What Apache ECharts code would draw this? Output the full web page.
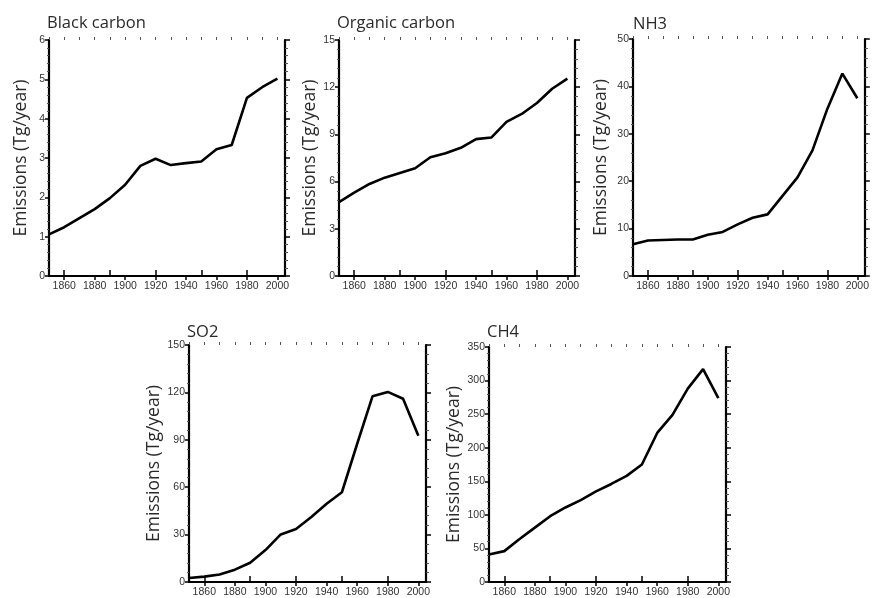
<!DOCTYPE html>
<html>
<head>
<meta charset="utf-8">
<script src="https://cdn.jsdelivr.net/npm/echarts@6/dist/echarts.min.js"></script>
<style>
html,body{margin:0;padding:0;background:#fff;}
#chart{width:872px;height:598px;}
</style>
</head>
<body>
<div id="chart"></div>
<script>
var years = [1850,1860,1870,1880,1890,1900,1910,1920,1930,1940,1950,1960,1970,1980,1990,2000];
var blackCarbon = [1.06,1.24,1.47,1.7,1.98,2.32,2.8,2.98,2.82,2.87,2.91,3.22,3.33,4.53,4.8,5.02];
var organicCarbon = [4.7,5.3,5.85,6.25,6.55,6.85,7.55,7.8,8.15,8.7,8.8,9.8,10.3,11.0,11.9,12.55];
var nh3 = [6.7,7.5,7.6,7.7,7.7,8.7,9.3,10.9,12.3,13.0,16.9,20.8,26.5,35.3,42.7,37.5];
var so2 = [2.5,3.4,4.8,7.8,12.2,20.2,30.1,33.5,41.2,49.5,56.8,87.5,117.5,120.3,116,92.5];
var ch4 = [41,46,64,81,98,111,122,135,146,158,175,222,249,288,317,274];
var titles = ["Black carbon","Organic carbon","NH3","SO2","CH4"];
var yAxisName = "Emissions (Tg/year)";
var bottomTickYears = [1860,1880,1900,1920,1940,1960,1980,2000];
var topMajorYears = [1860,1890,1920,1950,1980];
var topMinorYears = [1850,1860,1870,1880,1890,1900,1910,1920,1930,1940,1950,1960,1970,1980,1990,2000];
var yMax = [6,15,50,150,350];
var yInterval = [1,3,10,30,50];

var panels = [
  {left:49, top:40, w:236, h:236, gap:19, tx:47, ty:15},
  {left:339, top:40, w:236, h:236, gap:17, tx:337, ty:15},
  {left:633, top:39, w:235, h:237, gap:23, tx:633, ty:16},
  {left:189, top:345, w:237, h:238, gap:26, tx:187, ty:324},
  {left:489, top:347, w:237, h:236, gap:26, tx:487, ty:324}
];
var seriesData = [blackCarbon, organicCarbon, nh3, so2, ch4];

var grids=[], xAxes=[], yAxes=[], series=[], titleArr=[];
var axisLine = {show:true, lineStyle:{color:'#000', width:2.2}};
var labelFont = {color:'#333', fontSize:10.5, fontFamily:'Liberation Sans, Arial, sans-serif'};
panels.forEach(function(p,i){
  grids.push({left:p.left, top:p.top, width:p.w, height:p.h, containLabel:false});
  titleArr.push({text:titles[i], left:p.tx, top:p.ty, padding:0,
    textStyle:{fontSize:16.5, fontWeight:'normal', color:'#2a2a2a', fontFamily:'Open Sans, sans-serif'}});
  // bottom axis
  xAxes.push({type:'value', gridIndex:i, position:'bottom', min:1850, max:2005,
    axisLine:axisLine, splitLine:{show:false},
    axisTick:{show:true, customValues:bottomTickYears, length:4, lineStyle:{color:'#000', width:1.5}},
    axisLabel:Object.assign({customValues:bottomTickYears, margin:5,
      formatter:function(v){return String(v);}}, labelFont)});
  // top major
  xAxes.push({type:'value', gridIndex:i, position:'top', min:1850, max:2005,
    axisLine:axisLine, splitLine:{show:false},
    axisTick:{show:true, customValues:topMajorYears, length:6, lineStyle:{color:'#000', width:1.5}},
    axisLabel:{show:false, customValues:topMajorYears}});
  // top minor
  xAxes.push({type:'value', gridIndex:i, position:'top', min:1850, max:2005,
    axisLine:{show:false}, splitLine:{show:false},
    axisTick:{show:true, customValues:topMinorYears, length:3, lineStyle:{color:'#555', width:1}},
    axisLabel:{show:false, customValues:topMinorYears}});
  // left
  yAxes.push({type:'value', gridIndex:i, position:'left', min:0, max:yMax[i], interval:yInterval[i],
    name:yAxisName, nameLocation:'middle', nameGap:p.gap,
    nameTextStyle:{fontSize:17.5, color:'#2a2a2a', fontFamily:'Open Sans, sans-serif'},
    axisLine:axisLine, splitLine:{show:false},
    axisTick:{show:true, length:4, lineStyle:{color:'#000', width:1.5}},
    minorTick:{show:true, splitNumber:5, length:2, lineStyle:{color:'#555', width:1}},
    axisLabel:Object.assign({margin:4}, labelFont)});
  // right
  yAxes.push({type:'value', gridIndex:i, position:'right', min:0, max:yMax[i], interval:yInterval[i],
    axisLine:axisLine, splitLine:{show:false},
    axisTick:{show:true, length:5, lineStyle:{color:'#000', width:1.5}},
    minorTick:{show:true, splitNumber:5, length:3, lineStyle:{color:'#555', width:1}},
    axisLabel:{show:false}});
  series.push({type:'line', xAxisIndex:3*i, yAxisIndex:2*i, symbol:'none',
    lineStyle:{color:'#000', width:2.6}, smooth:false, z:5,
    data: years.map(function(y,k){return [y, seriesData[i][k]];})});
});

var chart = echarts.init(document.getElementById('chart'), null, {renderer:'canvas'});
chart.setOption({
  animation:false,
  backgroundColor:'#fff',
  title:titleArr,
  grid:grids,
  xAxis:xAxes,
  yAxis:yAxes,
  series:series
});
</script>
</body>
</html>
